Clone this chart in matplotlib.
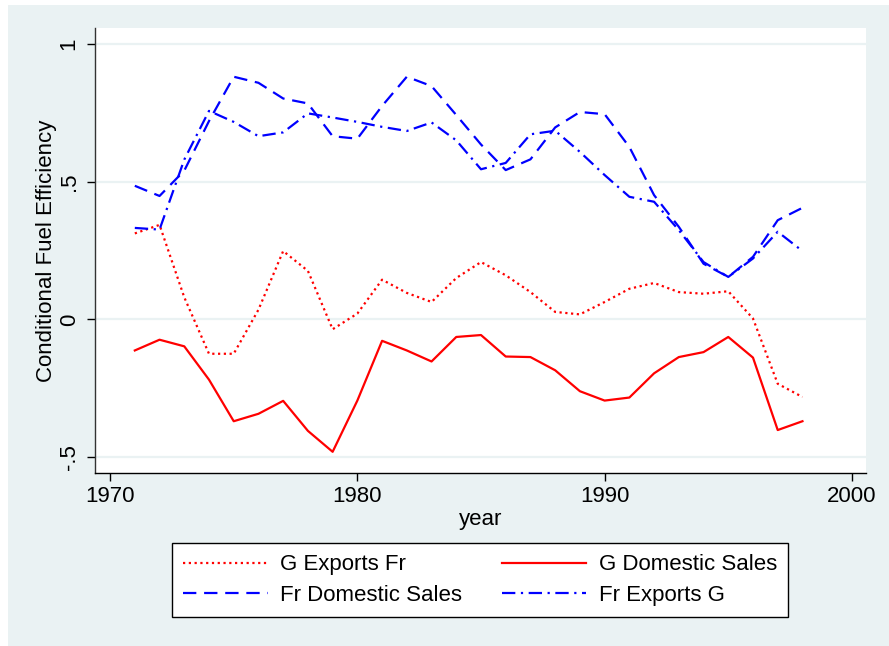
import numpy as np
import matplotlib
matplotlib.use('Agg')
from matplotlib import pyplot as plt
from matplotlib.patches import Rectangle

years = list(range(1971, 1999))

g_exports_fr = [0.312, 0.343, 0.080, -0.125, -0.125, 0.035, 0.248, 0.176, -0.036, 0.021,
                0.144, 0.096, 0.063, 0.150, 0.208, 0.160, 0.099, 0.027, 0.018, 0.063,
                0.111, 0.132, 0.099, 0.093, 0.102, 0.003, -0.234, -0.282]
g_domestic = [-0.113, -0.074, -0.098, -0.219, -0.370, -0.343, -0.296, -0.405, -0.481, -0.295,
              -0.078, -0.113, -0.153, -0.064, -0.057, -0.135, -0.137, -0.185, -0.261, -0.295,
              -0.284, -0.196, -0.137, -0.119, -0.064, -0.139, -0.402, -0.370]
fr_domestic = [0.485, 0.448, 0.540, 0.720, 0.881, 0.859, 0.802, 0.784, 0.665, 0.656,
               0.775, 0.881, 0.847, 0.742, 0.635, 0.542, 0.581, 0.697, 0.753, 0.745,
               0.626, 0.451, 0.336, 0.202, 0.154, 0.227, 0.360, 0.405]
fr_exports_g = [0.332, 0.326, 0.580, 0.757, 0.717, 0.665, 0.679, 0.748, 0.733, 0.717,
                0.699, 0.684, 0.715, 0.650, 0.545, 0.568, 0.672, 0.685, 0.608, 0.524,
                0.445, 0.427, 0.324, 0.208, 0.154, 0.221, 0.318, 0.248]

xticks = [1970, 1980, 1990, 2000]
yticks = [-0.5, 0, 0.5, 1]
ytick_labels = ['-.5', '0', '.5', '1']

def main():
  plt.rcParams['font.family'] = ['Liberation Sans', 'DejaVu Sans']
  fs = 16
  bg = '#eaf2f3'

  fig = plt.figure(figsize=(8.89, 6.46), dpi=100, facecolor='white')
  fig.patches.append(Rectangle((8/889, 0), 1 - 8/889, 1 - 5/646, transform=fig.transFigure,
                               facecolor=bg, edgecolor='none', zorder=-10))
  ax = fig.add_axes([95/889, 1 - 473/646, 771/889, 445/646])
  ax.set_facecolor('white')

  ax.set_xlim(1969.39, 2000.57)
  ax.set_ylim(-0.558, 1.058)

  for y in yticks:
    ax.axhline(y, color=bg, lw=1.6, zorder=1)

  lw = 1.6
  l1, = ax.plot(years, g_exports_fr, color='red', lw=lw, linestyle=(0, (1, 1.6)), label='G Exports Fr', zorder=3)
  l2, = ax.plot(years, g_domestic, color='red', lw=lw, linestyle='-', label='G Domestic Sales', zorder=3)
  l3, = ax.plot(years, fr_domestic, color='blue', lw=lw, linestyle=(0, (6, 3.5)), label='Fr Domestic Sales', zorder=3)
  l4, = ax.plot(years, fr_exports_g, color='blue', lw=lw, linestyle=(0, (6, 2.5, 1, 2.5)), label='Fr Exports G', zorder=3)

  ax.spines['top'].set_visible(False)
  ax.spines['right'].set_visible(False)
  ax.spines['left'].set_color('#333333')
  ax.spines['bottom'].set_color('black')
  ax.spines['left'].set_linewidth(1.0)
  ax.spines['bottom'].set_linewidth(1.0)

  ax.set_xticks(xticks)
  ax.set_xticklabels([str(x) for x in xticks], fontsize=fs)
  ax.set_yticks(yticks)
  ax.set_yticklabels(ytick_labels, fontsize=fs, rotation=90, va='center')
  ax.tick_params(axis='x', direction='out', length=6, width=1, pad=3)
  ax.tick_params(axis='y', direction='out', length=6, width=1, pad=5)

  ax.set_xlabel('year', fontsize=fs, labelpad=2)
  ax.set_ylabel('Conditional Fuel Efficiency', fontsize=fs, labelpad=1.5)

  leg = fig.legend(handles=[l1, l3, l2, l4], ncol=2, loc='center',
                   bbox_to_anchor=(480/889, 1 - 580/646), fontsize=fs,
                   handlelength=3.8, handletextpad=0.55, columnspacing=1.8,
                   labelspacing=0.42, borderpad=0.5, fancybox=False, framealpha=1)
  leg.get_frame().set_edgecolor('black')
  leg.get_frame().set_linewidth(1.0)

  fig.savefig('out.png', dpi=100, facecolor=fig.get_facecolor())
  plt.close()

if __name__ == '__main__':
  main()
